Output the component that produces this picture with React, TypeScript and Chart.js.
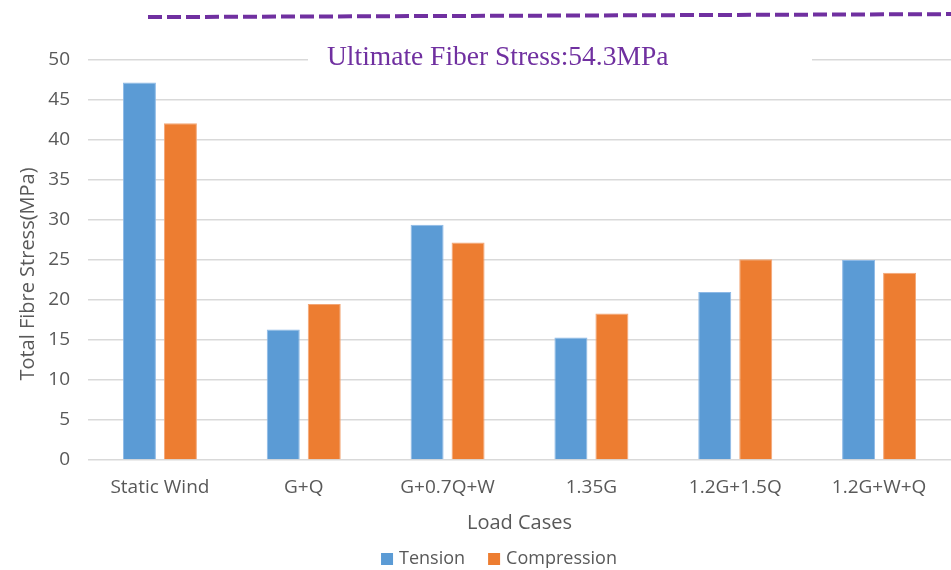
import { useEffect, useRef } from 'react';
import { Chart, registerables } from 'chart.js';

Chart.register(...registerables);

const categories = ['Static Wind', 'G+Q', 'G+0.7Q+W', '1.35G', '1.2G+1.5Q', '1.2G+W+Q'];
const tensionValues = [47.2, 16.3, 29.4, 15.3, 21.0, 25.0];
const compressionValues = [42.1, 19.5, 27.2, 18.3, 25.1, 23.4];
const seriesNames = ['Tension', 'Compression'];
const Y_MIN = 0;
const Y_MAX = 50;
const Y_STEP = 5;
const ULTIMATE_STRESS = 54.3;
const ULTIMATE_LABEL = 'Ultimate Fiber Stress:54.3MPa';
const X_TITLE = 'Load Cases';
const Y_TITLE = 'Total Fibre Stress(MPa)';

const BLUE = '#5B9BD5';
const ORANGE = '#ED7D31';
const PURPLE = '#7030A0';
const TEXT = '#595959';
const GRID = '#D9D9D9';
const FONT = "'Open Sans', sans-serif";

const ultimatePlugin = {
  id: 'ultimate',
  afterDraw(chart: any) {
    const { ctx } = chart;
    const y = chart.scales.y;
    const yMid = y.getPixelForValue(ULTIMATE_STRESS) - 10;
    ctx.save();
    // white label box over the top gridline
    ctx.fillStyle = '#ffffff';
    ctx.fillRect(308, 42, 504, 36);
    ctx.fillStyle = PURPLE;
    ctx.font = "27.5px 'Liberation Serif', 'Times New Roman', serif";
    ctx.textBaseline = 'alphabetic';
    ctx.textAlign = 'left';
    ctx.fillText(ULTIMATE_LABEL, 327, 65);
    // dashed ultimate line
    ctx.strokeStyle = PURPLE;
    ctx.lineWidth = 4;
    ctx.setLineDash([14, 5]);
    ctx.beginPath();
    ctx.moveTo(148, yMid + 1.5);
    ctx.lineTo(chart.width, yMid - 1.5);
    ctx.stroke();
    ctx.restore();
  },
};

const yTitlePlugin = {
  id: 'yTitle',
  afterDraw(chart: any) {
    const { ctx } = chart;
    ctx.save();
    ctx.translate(28, 274);
    ctx.rotate(-Math.PI / 2);
    ctx.font = `20px ${FONT}`;
    ctx.fillStyle = TEXT;
    ctx.textAlign = 'center';
    ctx.textBaseline = 'middle';
    ctx.fillText(Y_TITLE, 0, 0);
    ctx.restore();
  },
};

const legendPlugin = {
  id: 'customLegend',
  afterDraw(chart: any) {
    const { ctx } = chart;
    const ds = chart.data.datasets;
    ctx.save();
    ctx.font = `18px ${FONT}`;
    ctx.textBaseline = 'middle';
    ctx.textAlign = 'left';
    const box = 12;
    const gap = 6;
    const spacing = 23;
    const widths = ds.map((d: any) => box + gap + ctx.measureText(d.label).width);
    const total = widths.reduce((a: number, b: number) => a + b, 0) + spacing * (ds.length - 1);
    let x = 499 - total / 2;
    const cy = 559;
    ds.forEach((d: any, i: number) => {
      ctx.fillStyle = d.backgroundColor;
      ctx.fillRect(x, cy - box / 2, box, box);
      ctx.fillStyle = TEXT;
      ctx.fillText(d.label, x + box + gap, cy);
      x += widths[i] + spacing;
    });
    ctx.restore();
  },
};

export default function App() {
  const canvasRef = useRef<HTMLCanvasElement | null>(null);

  useEffect(() => {
    document.body.style.margin = '0';
    const canvas = canvasRef.current;
    if (!canvas) return;
    const chart = new Chart(canvas, {
      type: 'bar',
      data: {
        labels: categories,
        datasets: [
          {
            label: seriesNames[0],
            data: tensionValues,
            backgroundColor: BLUE,
            borderColor: '#8DB9E6',
            borderWidth: 1,
            categoryPercentage: 0.57,
            barPercentage: 0.805,
          },
          {
            label: seriesNames[1],
            data: compressionValues,
            backgroundColor: ORANGE,
            borderColor: '#F3A676',
            borderWidth: 1,
            categoryPercentage: 0.57,
            barPercentage: 0.805,
          },
        ],
      },
      options: {
        responsive: false,
        animation: false,
        devicePixelRatio: 1,
        layout: { padding: { top: 60, bottom: 22, left: 0, right: 0 } },
        plugins: {
          legend: { display: false },
          tooltip: { enabled: false },
        },
        scales: {
          x: {
            grid: { display: false, drawTicks: false },
            border: { display: false },
            ticks: { color: TEXT, font: { family: FONT, size: 19 }, padding: 16, maxRotation: 0 },
            title: {
              display: true,
              text: X_TITLE,
              color: TEXT,
              font: { family: FONT, size: 20 },
              padding: { top: 0, bottom: 13 },
            },
            afterFit(scale: any) {
              scale.height = 88;
            },
          },
          y: {
            min: Y_MIN,
            max: Y_MAX,
            ticks: { stepSize: Y_STEP, color: TEXT, font: { family: FONT, size: 19 }, padding: 18 },
            grid: { color: GRID, lineWidth: 1.5, drawTicks: false },
            border: { display: false },
            title: { display: false },
            afterFit(scale: any) {
              scale.width = 88;
            },
          },
        },
      },
      plugins: [ultimatePlugin, yTitlePlugin, legendPlugin],
    });
    return () => chart.destroy();
  }, []);

  return (
    <div style={{ width: 951, height: 570 }}>
      <canvas ref={canvasRef} width={951} height={570} />
    </div>
  );
}
